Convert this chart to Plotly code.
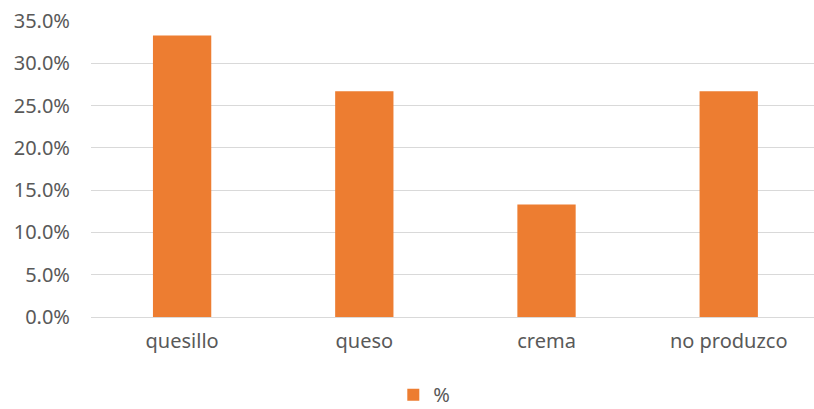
import plotly.graph_objects as go

categories = ["quesillo", "queso", "crema", "no produzco"]
values = [0.333, 0.267, 0.133, 0.267]
series_name = "%"
y_ticks = [0, 0.05, 0.10, 0.15, 0.20, 0.25, 0.30, 0.35]
y_tick_labels = ["0.0%", "5.0%", "10.0%", "15.0%", "20.0%", "25.0%", "30.0%", "35.0%"]

fig = go.Figure()
fig.add_trace(go.Bar(
    x=categories, y=values, name=series_name,
    marker=dict(color="#ED7D31", line=dict(width=0)),
    width=0.32, showlegend=True,
))

font = "Noto Sans, Open Sans, sans-serif"
fs = 20
fig.update_layout(
    width=814, height=409,
    margin=dict(l=91, r=0, t=21, b=92, autoexpand=False),
    paper_bgcolor="white", plot_bgcolor="white",
    font=dict(family=font, size=fs, color="#595959"),
    xaxis=dict(range=[-0.5, 3.468], showgrid=False, zeroline=False,
               showline=False, ticks="", ticklabelstandoff=10, automargin=False,
               tickfont=dict(size=fs, color="#595959")),
    yaxis=dict(range=[0, 0.35], tickvals=y_ticks, ticktext=y_tick_labels,
               showgrid=True, gridcolor="#D9D9D9", gridwidth=1.3,
               zeroline=True, zerolinecolor="#D9D9D9", zerolinewidth=1.3,
               showline=False, ticks="", ticklabelstandoff=20, automargin=False,
               tickfont=dict(size=fs, color="#595959")),
    legend=dict(orientation="h", x=0.461, xanchor="center",
                yref="container", y=0.035, yanchor="middle",
                font=dict(size=fs, color="#595959"), itemwidth=30,
                bgcolor="rgba(0,0,0,0)"),
    bargap=0.68,
)

fig.write_html("out.html",
               config={"displayModeBar": False},
               post_script="document.body.style.margin='0';document.body.style.overflow='hidden';")
